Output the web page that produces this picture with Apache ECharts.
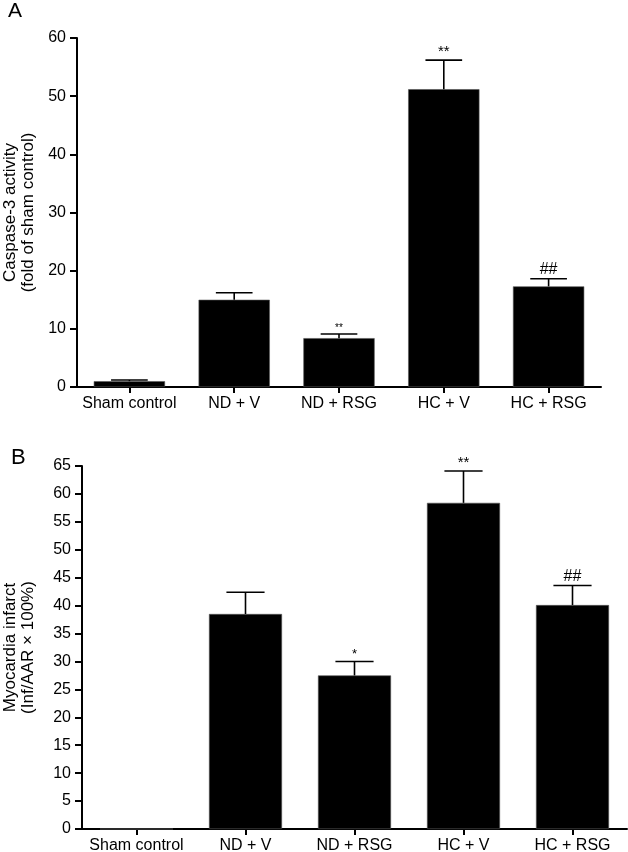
<!DOCTYPE html>
<html><head><meta charset="utf-8">
<script src="https://cdn.jsdelivr.net/npm/echarts@6/dist/echarts.min.js"></script>
<style>html,body{margin:0;padding:0;background:#fff}#c{width:628px;height:852px}</style>
</head><body><div id="c"></div>
<script>
const categories = ['Sham control', 'ND + V', 'ND + RSG', 'HC + V', 'HC + RSG'];
const caspaseMean = [1.0, 15.0, 8.4, 51.2, 17.3];
const caspaseErr = [0.2, 1.2, 0.7, 5.0, 1.3];
const caspaseSig = ['', '', '**', '**', '##'];
const infarctMean = [0, 38.5, 27.5, 58.4, 40.1];
const infarctErr = [0, 3.9, 2.5, 5.7, 3.5];
const infarctSig = ['', '', '*', '**', '##'];
const caspaseTicks = [0, 60, 10];
const infarctTicks = [0, 65, 5];

const FONT = 'Liberation Sans, Arial, sans-serif';
const chart = echarts.init(document.getElementById('c'), null, {renderer: 'canvas'});

function errSeries(idx, means, errs, sigs, sigSizes) {
  return {
    type: 'custom', xAxisIndex: idx, yAxisIndex: idx, z: 5,
    data: means.map((m, i) => [i, m, errs[i]]),
    encode: {x: 0, y: 1},
    renderItem: function (params, api) {
      const i = params.dataIndex;
      const x = api.value(0), v = api.value(1), e = api.value(2);
      const base = api.coord([x, v]);
      const top = api.coord([x, v + e]);
      const half = api.size([1, 0])[0] * 0.175;
      const children = [];
      if (e > 0) {
        children.push({type: 'line', shape: {x1: base[0], y1: base[1], x2: top[0], y2: top[1]}, style: {stroke: '#000', lineWidth: 1.6}});
        children.push({type: 'line', shape: {x1: top[0] - half, y1: top[1], x2: top[0] + half, y2: top[1]}, style: {stroke: '#000', lineWidth: 1.6}});
      }
      if (sigs[i]) {
        children.push({type: 'text', style: {text: sigs[i], x: top[0], y: top[1] - 1, align: 'center', verticalAlign: 'bottom', font: sigSizes[i] + 'px ' + FONT, fill: '#000'}});
      }
      return {type: 'group', children: children};
    }
  };
}

function xAxisCfg(idx) {
  return {
    type: 'category', gridIndex: idx, data: categories,
    axisLabel: {color: '#000', fontSize: 16, fontFamily: FONT, margin: 9, interval: 0},
    axisLine: {show: true, lineStyle: {color: '#000', width: 2}},
    axisTick: {show: true, alignWithLabel: true, length: 6, lineStyle: {color: '#000', width: 2}},
    splitLine: {show: false}
  };
}
function yAxisCfg(idx, ticks, name, gap) {
  return {
    type: 'value', gridIndex: idx, min: ticks[0], max: ticks[1], interval: ticks[2],
    name: name, nameLocation: 'middle', nameRotate: 90, nameGap: gap,
    nameTextStyle: {color: '#000', fontSize: 17, fontFamily: FONT, lineHeight: 18},
    axisLabel: {color: '#000', fontSize: 16, fontFamily: FONT, margin: 11},
    axisLine: {show: true, lineStyle: {color: '#000', width: 2}},
    axisTick: {show: true, length: 7, lineStyle: {color: '#000', width: 2}},
    splitLine: {show: false}
  };
}

chart.setOption({
  animation: false,
  backgroundColor: '#fff',
  graphic: [
    {type: 'text', left: 8, top: 1, style: {text: 'A', font: '21px ' + FONT, fill: '#000'}},
    {type: 'text', left: 11, top: 447, style: {text: 'B', font: '22px ' + FONT, fill: '#000'}}
  ],
  grid: [
    {left: 77, top: 38, width: 524, height: 349, containLabel: false, outerBoundsMode: 'none'},
    {left: 82, top: 466, width: 545, height: 363, containLabel: false, outerBoundsMode: 'none'}
  ],
  xAxis: [xAxisCfg(0), xAxisCfg(1)],
  yAxis: [
    yAxisCfg(0, caspaseTicks, 'Caspase-3 activity\n(fold of sham control)', 40),
    yAxisCfg(1, infarctTicks, 'Myocardia infarct\n(Inf/AAR \u00d7 100%)', 45)
  ],
  series: [
    {type: 'bar', xAxisIndex: 0, yAxisIndex: 0, data: caspaseMean, barWidth: '68%', itemStyle: {color: '#000', borderColor: '#555', borderWidth: 0.6}},
    {type: 'bar', xAxisIndex: 1, yAxisIndex: 1, data: infarctMean, barWidth: '67%', itemStyle: {color: '#000', borderColor: '#555', borderWidth: 0.6}},
    errSeries(0, caspaseMean, caspaseErr, caspaseSig, [10, 10, 10, 15, 16]),
    errSeries(1, infarctMean, infarctErr, infarctSig, [13, 13, 13, 15, 16])
  ]
});
</script></body></html>
